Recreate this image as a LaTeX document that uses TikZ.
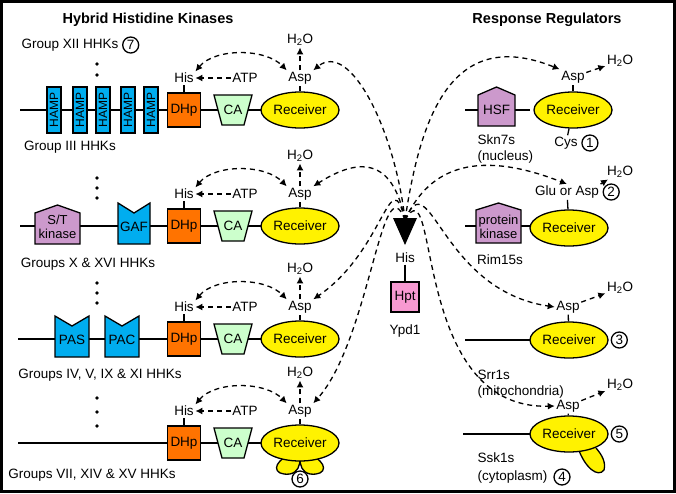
\documentclass[tikz,border=0pt]{standalone}
\usepackage{fontspec}
\setmainfont{Liberation Sans}
\usetikzlibrary{shapes.geometric,arrows.meta,positioning,calc}
\tikzset{>={Latex[length=7pt,width=7pt]}}
\tikzset{
  every path/.style={line width=1.3pt},
  dom/.style={draw,minimum width=33pt,minimum height=34pt,inner sep=1pt},
  recv/.style={draw,ellipse,fill=yellow,minimum width=78pt,minimum height=36pt,inner sep=0pt},
  num/.style={draw,circle,inner sep=0.5pt,minimum size=16pt},
  dsh/.style={dash pattern=on 5pt off 4pt},
  lbl/.style={inner sep=1pt}
}
% one HHK core: y, name prefix
\newcommand\hhkcore[2]{
  \draw (160,#1) -- (262,#1);
  \node[dom,fill=orange!90!red] (#2dhp) at (184,#1) {DHp};
  \draw[fill=green!20] (214,#1-15) -- (252,#1-15) -- (244,#1+15) -- (222,#1+15) -- cycle;
  \node (#2ca) at (233,#1) {CA};
  \node[recv] (#2rec) at (300,#1) {Receiver};
  \node[lbl] (#2his) at (184,#1-32) {His};
  \node[lbl] (#2asp) at (300,#1-32) {Asp};
  \node[lbl] (#2atp) at (245,#1-32) {ATP};
  \node[lbl] (#2h) at (300,#1-70) {H\textsubscript{2}O};
  \draw (#2dhp) -- (#2his);
  \draw (#2rec) -- (#2asp);
  \draw[dsh,->] (#2atp) -- (#2his);
  \draw[dsh,->] (#2asp) -- (#2h);
  \draw[dsh,<->] (#2his.north east) .. controls (215,#1-62) and (265,#1-62) .. (#2asp.north west);
}
\begin{document}
\begin{tikzpicture}[x=1pt,y=-1pt,font=\fontsize{13.5}{15}\selectfont]
\draw[line width=3pt,fill=white] (1.5,1.5) rectangle (674.5,491.5);
\node[font=\fontsize{14.5}{16}\selectfont\bfseries] (htitle) at (148,20) {Hybrid Histidine Kinases};
\node[font=\fontsize{14.5}{16}\selectfont\bfseries] (rtitle) at (547,20) {Response Regulators};

% Group XII / III
\draw (20,110) -- (160,110);
\foreach \x in {54,80,103,128,151}
  \node[draw,fill=cyan,minimum width=14pt,minimum height=46pt,inner sep=0pt,font=\fontsize{12}{13}\selectfont] at (\x,110) {\rotatebox{90}{HAMP}};
\hhkcore{110}{a}
\node[lbl] (gxii) at (70,45) {Group XII HHKs};
\node[num,right=2pt of gxii] {7};
\node[lbl] (giii) at (70,147) {Group III HHKs};
\foreach \yy in {64,75} \fill (97,\yy) circle (1.8pt);

% Groups X & XVI
\draw (20,226) -- (160,226);
\draw[fill=violet!40] (35,244) -- (35,213) -- (57.5,205) -- (80,213) -- (80,244) -- cycle;
\node[align=center,inner sep=0pt,font=\fontsize{13}{14}\selectfont] (stk) at (57.5,227) {S/T\\kinase};
\draw[fill=cyan] (118,244) -- (118,203) -- (134,213) -- (150,203) -- (150,244) -- cycle;
\node (gaf) at (134,227) {GAF};
\hhkcore{226}{b}
\node[lbl] (gx) at (88,264) {Groups X \& XVI HHKs};
\foreach \yy in {178,188,198} \fill (97,\yy) circle (1.8pt);

% Groups IV, V, IX & XI
\draw (18,339) -- (160,339);
\foreach \x/\t in {72/PAS,122/PAC}{
  \draw[fill=cyan] (\x-17,357) -- (\x-17,316) -- (\x,326) -- (\x+17,316) -- (\x+17,357) -- cycle;
  \node at (\x,340) {\t};}
\hhkcore{339}{c}
\node[lbl] (giv) at (100,375) {Groups IV, V, IX \& XI HHKs};
\foreach \yy in {283,293,303} \fill (97,\yy) circle (1.8pt);

% Groups VII, XIV & XV
\draw (18,443) -- (160,443);
\draw[fill=yellow] (290,455) .. controls (272,462) and (272,476) .. (290,474) .. controls (298,472) and (300,466) .. (300,458);
\draw[fill=yellow] (310,455) .. controls (328,462) and (328,476) .. (310,474) .. controls (302,472) and (300,466) .. (300,458);
\hhkcore{443}{d}
\node[num] (six) at (300,479) {6};
\node[lbl] (gvii) at (92,475) {Groups VII, XIV \& XV HHKs};
\foreach \yy in {398,412,426} \fill (97,\yy) circle (1.8pt);

% Ypd1
\fill (393,218) -- (417,218) -- (405,245) -- cycle;
\coordinate (tri) at (405,220);
\node[lbl] (yhis) at (405,258) {His};
\node[draw,fill=magenta!40,minimum width=28pt,minimum height=30pt] (hpt) at (405,297) {Hpt};
\draw (yhis) -- (hpt);
\node[lbl] (ypd) at (405,331) {Ypd1};

% Skn7s
\draw (465,110) -- (530,110);
\draw[fill=violet!40] (478,126) -- (478,95) -- (496.5,87) -- (515,95) -- (515,126) -- cycle;
\node (hsf) at (496.5,110) {HSF};
\node[recv] (rrec) at (573,110) {Receiver};
\node[lbl] (rasp) at (573,77) {Asp};
\node[lbl] (rh) at (620,61) {H\textsubscript{2}O};
\node[lbl] (cys) at (566,143) {Cys};
\node[num,right=2pt of cys] {1};
\draw (rrec) -- (rasp);
\draw (rrec) -- (cys);
\draw[dsh,->] (rasp) -- (rh);
\node[lbl,anchor=west] (skn) at (476,140) {Skn7s};
\node[lbl,anchor=west] (nuc) at (476,157) {(nucleus)};

% Rim15s
\draw (465,226) -- (530,226);
\draw[fill=violet!40] (476,243) -- (476,210) -- (498.5,203) -- (521,210) -- (521,243) -- cycle;
\node[align=center,inner sep=0pt,font=\fontsize{13}{14}\selectfont] (pk) at (498.5,227) {protein\\kinase};
\node[recv] (srec) at (569,228) {Receiver};
\node[lbl] (sasp) at (567,192) {Glu or Asp};
\node[lbl] (sh) at (620,172) {H\textsubscript{2}O};
\node[num,right=2pt of sasp] {2};
\draw (srec) -- (sasp);
\draw[dsh,->] (sasp.north east) -- (sh);
\node[lbl] (rim) at (500,260) {Rim15s};

% Srr1s
\draw (465,340) -- (530,340);
\node[recv] (trec) at (569,340) {Receiver};
\node[lbl] (tasp) at (568,307) {Asp};
\node[lbl] (th) at (620,288) {H\textsubscript{2}O};
\node[num,right=2pt of trec] {3};
\draw (trec) -- (tasp);
\draw[dsh,->] (tasp) -- (th);
\node[lbl,anchor=west] (srr) at (476,375) {Srr1s};
\node[lbl,anchor=west] (mit) at (476,392) {(mitochondria)};

% Ssk1s
\draw (463,434) -- (530,434);
\draw[fill=yellow] (578,448) .. controls (585,468) and (598,478) .. (604,470) .. controls (606,462) and (602,455) .. (596,448);
\node[recv] (urec) at (569,434) {Receiver};
\node[lbl] (uasp) at (568,406) {Asp};
\node[lbl] (uh) at (620,385) {H\textsubscript{2}O};
\node[num,right=2pt of urec] {5};
\draw (urec) -- (uasp);
\draw[dsh,->] (uasp) -- (uh);
\node[lbl,anchor=west] (ssk) at (476,458) {Ssk1s};
\node[lbl,anchor=west] (cyt) at (476,477) {(cytoplasm)};
\node[num] (four) at (562,477) {4};

% phosphorelay
\draw[dsh,->] (tri) .. controls (395,130) and (350,40) .. (aasp.north east);
\draw[dsh,->] (tri) .. controls (395,170) and (370,150) .. (basp.north east);
\draw[dsh,->] (tri) .. controls (390,160) and (385,250) .. (casp.north east);
\draw[dsh,->] (tri) .. controls (382,160) and (370,340) .. (dasp.north east);
\draw[dsh,->] (tri) .. controls (420,120) and (450,25) .. (rasp.north west);
\draw[dsh,->] (tri) .. controls (430,165) and (480,150) .. (sasp.north);
\draw[dsh,->] (tri) .. controls (430,160) and (440,290) .. (tasp.west);
\draw[dsh,->] (tri) .. controls (440,160) and (410,410) .. (uasp.west);
\end{tikzpicture}
\end{document}
